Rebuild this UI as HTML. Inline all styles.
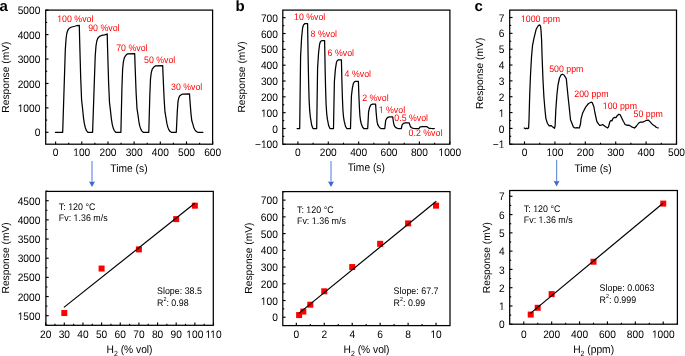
<!DOCTYPE html>
<html><head><meta charset="utf-8"><style>
html,body{margin:0;padding:0;background:#fff;}
svg{display:block;font-family:"Liberation Sans", sans-serif;will-change:transform;text-rendering:geometricPrecision;}
</style></head><body>
<svg width="685" height="356" viewBox="0 0 685 356">
<rect width="685" height="356" fill="#fff"/>
<text x="-0.6" y="10.8" font-size="15" text-anchor="start" fill="#000" font-weight="bold" >a</text>
<text x="235.5" y="10.8" font-size="15" text-anchor="start" fill="#000" font-weight="bold" >b</text>
<text x="474.4" y="10.8" font-size="15" text-anchor="start" fill="#000" font-weight="bold" >c</text>
<rect x="45.7" y="10.1" width="166.9" height="134.1" fill="none" stroke="#000" stroke-width="1.25"/>
<line x1="55.6" y1="144.2" x2="55.6" y2="141.4" stroke="#000" stroke-width="1.15"/>
<line x1="81.78" y1="144.2" x2="81.78" y2="141.4" stroke="#000" stroke-width="1.15"/>
<line x1="107.96" y1="144.2" x2="107.96" y2="141.4" stroke="#000" stroke-width="1.15"/>
<line x1="134.14" y1="144.2" x2="134.14" y2="141.4" stroke="#000" stroke-width="1.15"/>
<line x1="160.32" y1="144.2" x2="160.32" y2="141.4" stroke="#000" stroke-width="1.15"/>
<line x1="186.5" y1="144.2" x2="186.5" y2="141.4" stroke="#000" stroke-width="1.15"/>
<line x1="212.68" y1="144.2" x2="212.68" y2="141.4" stroke="#000" stroke-width="1.15"/>
<line x1="68.69" y1="144.2" x2="68.69" y2="142.7" stroke="#000" stroke-width="1.15"/>
<line x1="94.87" y1="144.2" x2="94.87" y2="142.7" stroke="#000" stroke-width="1.15"/>
<line x1="121.05" y1="144.2" x2="121.05" y2="142.7" stroke="#000" stroke-width="1.15"/>
<line x1="147.23" y1="144.2" x2="147.23" y2="142.7" stroke="#000" stroke-width="1.15"/>
<line x1="173.41" y1="144.2" x2="173.41" y2="142.7" stroke="#000" stroke-width="1.15"/>
<line x1="199.59" y1="144.2" x2="199.59" y2="142.7" stroke="#000" stroke-width="1.15"/>
<line x1="45.7" y1="132.3" x2="48.5" y2="132.3" stroke="#000" stroke-width="1.15"/>
<line x1="45.7" y1="107.88" x2="48.5" y2="107.88" stroke="#000" stroke-width="1.15"/>
<line x1="45.7" y1="83.46" x2="48.5" y2="83.46" stroke="#000" stroke-width="1.15"/>
<line x1="45.7" y1="59.04" x2="48.5" y2="59.04" stroke="#000" stroke-width="1.15"/>
<line x1="45.7" y1="34.62" x2="48.5" y2="34.62" stroke="#000" stroke-width="1.15"/>
<line x1="45.7" y1="10.2" x2="48.5" y2="10.2" stroke="#000" stroke-width="1.15"/>
<line x1="45.7" y1="120.09" x2="47.2" y2="120.09" stroke="#000" stroke-width="1.15"/>
<line x1="45.7" y1="95.67" x2="47.2" y2="95.67" stroke="#000" stroke-width="1.15"/>
<line x1="45.7" y1="71.25" x2="47.2" y2="71.25" stroke="#000" stroke-width="1.15"/>
<line x1="45.7" y1="46.83" x2="47.2" y2="46.83" stroke="#000" stroke-width="1.15"/>
<line x1="45.7" y1="22.41" x2="47.2" y2="22.41" stroke="#000" stroke-width="1.15"/>
<text transform="translate(55.6,156.4) scale(1,1.07)" font-size="10.2" text-anchor="middle" fill="#000" font-weight="normal" >0</text>
<text transform="translate(81.78,156.4) scale(1,1.07)" font-size="10.2" text-anchor="middle" fill="#000" font-weight="normal" >100</text>
<text transform="translate(107.96,156.4) scale(1,1.07)" font-size="10.2" text-anchor="middle" fill="#000" font-weight="normal" >200</text>
<text transform="translate(134.14,156.4) scale(1,1.07)" font-size="10.2" text-anchor="middle" fill="#000" font-weight="normal" >300</text>
<text transform="translate(160.32,156.4) scale(1,1.07)" font-size="10.2" text-anchor="middle" fill="#000" font-weight="normal" >400</text>
<text transform="translate(186.5,156.4) scale(1,1.07)" font-size="10.2" text-anchor="middle" fill="#000" font-weight="normal" >500</text>
<text transform="translate(212.68,156.4) scale(1,1.07)" font-size="10.2" text-anchor="middle" fill="#000" font-weight="normal" >600</text>
<text transform="translate(40.3,136.4) scale(1,1.07)" font-size="10.2" text-anchor="end" fill="#000" font-weight="normal" >0</text>
<text transform="translate(40.3,111.98) scale(1,1.07)" font-size="10.2" text-anchor="end" fill="#000" font-weight="normal" >1000</text>
<text transform="translate(40.3,87.56) scale(1,1.07)" font-size="10.2" text-anchor="end" fill="#000" font-weight="normal" >2000</text>
<text transform="translate(40.3,63.14) scale(1,1.07)" font-size="10.2" text-anchor="end" fill="#000" font-weight="normal" >3000</text>
<text transform="translate(40.3,38.72) scale(1,1.07)" font-size="10.2" text-anchor="end" fill="#000" font-weight="normal" >4000</text>
<text transform="translate(40.3,14.3) scale(1,1.07)" font-size="10.2" text-anchor="end" fill="#000" font-weight="normal" >5000</text>
<text transform="translate(128.95,171.7) scale(1,1.07)" font-size="10.25" text-anchor="middle" fill="#000" font-weight="normal" >Time (s)</text>
<text transform="translate(8.5,77.1) rotate(-90)" x="0" y="0" font-size="10.25" text-anchor="middle" fill="#000">Response (mV)</text>
<path d="M55.4,132.3 L62.7,132.3 L65.3,49.91 L66.1,38.25 L66.9,33 L67.9,30.01 L69.6,27.97 L71.7,27.01 L74.7,26.26 L77.2,25.51 L79.3,25.3 L79.6,38.14 L80.2,59.97 L80.7,78.05 L81.6,99.99 L82.6,108.97 L83.5,117.96 L84.4,123.95 L85.4,128.02 L86.5,130.7 L87.9,132.3 L92.6,132.3 L95.2,56.53 L96,45.81 L96.8,40.98 L97.8,38.23 L99.5,36.36 L101.6,35.47 L104.6,34.79 L107.1,34.1 L107.2,33.9 L107.5,45.71 L108.1,65.78 L108.6,82.41 L109.5,102.58 L110.5,110.85 L111.4,119.11 L112.3,124.62 L113.3,128.36 L114.4,130.82 L115.8,132.3 L120.9,132.3 L121.9,89.07 L122.6,69.42 L123.4,61.56 L124.4,57.63 L125.9,55.27 L127.4,53.94 L134.7,53.7 L135,63.13 L135.6,79.17 L136.1,92.45 L137,108.56 L138,115.17 L138.9,121.77 L139.8,126.17 L140.8,129.16 L141.9,131.12 L143.3,132.3 L148.8,132.3 L149.8,95.67 L150.5,79.02 L151.3,72.36 L152.3,69.03 L153.8,67.03 L155.3,65.9 L162.7,65.7 L163,73.69 L163.6,87.28 L164.1,98.53 L165,112.19 L166,117.78 L166.9,123.38 L167.8,127.11 L168.8,129.64 L169.9,131.3 L171.3,132.3 L176.3,132.3 L177.3,111.18 L178,101.58 L178.8,97.74 L179.8,95.82 L181.3,94.67 L182.8,94.02 L189.5,93.9 L189.8,98.51 L190.4,106.34 L190.9,112.83 L191.8,120.7 L192.8,123.93 L193.7,127.15 L194.6,129.3 L195.6,130.76 L196.7,131.72 L198.1,132.3 L202.9,132.3" fill="none" stroke="#000" stroke-width="1.25" stroke-linejoin="round" stroke-linecap="round"/>
<text transform="translate(57.2,21.9) scale(1,1.07)" font-size="8.8" text-anchor="start" fill="#ff0000" font-weight="normal" >100 %vol</text>
<text transform="translate(88.2,31) scale(1,1.07)" font-size="8.8" text-anchor="start" fill="#ff0000" font-weight="normal" >90 %vol</text>
<text transform="translate(116.2,51) scale(1,1.07)" font-size="8.8" text-anchor="start" fill="#ff0000" font-weight="normal" >70 %vol</text>
<text transform="translate(144,63.4) scale(1,1.07)" font-size="8.8" text-anchor="start" fill="#ff0000" font-weight="normal" >50 %vol</text>
<text transform="translate(171,89.6) scale(1,1.07)" font-size="8.8" text-anchor="start" fill="#ff0000" font-weight="normal" >30 %vol</text>
<line x1="92" y1="161" x2="92" y2="183" stroke="#6f95e0" stroke-width="1.25"/>
<path d="M89,181.4 L92,182.1 L95,181.4 L92,187 Z" fill="#3a6ad4"/>
<rect x="45.9" y="191.4" width="167.4" height="133.9" fill="none" stroke="#000" stroke-width="1.25"/>
<line x1="45.65" y1="325.3" x2="45.65" y2="322.5" stroke="#000" stroke-width="1.15"/>
<line x1="64.3" y1="325.3" x2="64.3" y2="322.5" stroke="#000" stroke-width="1.15"/>
<line x1="82.95" y1="325.3" x2="82.95" y2="322.5" stroke="#000" stroke-width="1.15"/>
<line x1="101.6" y1="325.3" x2="101.6" y2="322.5" stroke="#000" stroke-width="1.15"/>
<line x1="120.25" y1="325.3" x2="120.25" y2="322.5" stroke="#000" stroke-width="1.15"/>
<line x1="138.9" y1="325.3" x2="138.9" y2="322.5" stroke="#000" stroke-width="1.15"/>
<line x1="157.55" y1="325.3" x2="157.55" y2="322.5" stroke="#000" stroke-width="1.15"/>
<line x1="176.2" y1="325.3" x2="176.2" y2="322.5" stroke="#000" stroke-width="1.15"/>
<line x1="194.85" y1="325.3" x2="194.85" y2="322.5" stroke="#000" stroke-width="1.15"/>
<line x1="213.5" y1="325.3" x2="213.5" y2="322.5" stroke="#000" stroke-width="1.15"/>
<line x1="54.97" y1="325.3" x2="54.97" y2="323.8" stroke="#000" stroke-width="1.15"/>
<line x1="73.62" y1="325.3" x2="73.62" y2="323.8" stroke="#000" stroke-width="1.15"/>
<line x1="92.27" y1="325.3" x2="92.27" y2="323.8" stroke="#000" stroke-width="1.15"/>
<line x1="110.93" y1="325.3" x2="110.93" y2="323.8" stroke="#000" stroke-width="1.15"/>
<line x1="129.57" y1="325.3" x2="129.57" y2="323.8" stroke="#000" stroke-width="1.15"/>
<line x1="148.22" y1="325.3" x2="148.22" y2="323.8" stroke="#000" stroke-width="1.15"/>
<line x1="166.88" y1="325.3" x2="166.88" y2="323.8" stroke="#000" stroke-width="1.15"/>
<line x1="185.53" y1="325.3" x2="185.53" y2="323.8" stroke="#000" stroke-width="1.15"/>
<line x1="204.17" y1="325.3" x2="204.17" y2="323.8" stroke="#000" stroke-width="1.15"/>
<line x1="45.9" y1="315.7" x2="48.7" y2="315.7" stroke="#000" stroke-width="1.15"/>
<line x1="45.9" y1="296.53" x2="48.7" y2="296.53" stroke="#000" stroke-width="1.15"/>
<line x1="45.9" y1="277.37" x2="48.7" y2="277.37" stroke="#000" stroke-width="1.15"/>
<line x1="45.9" y1="258.2" x2="48.7" y2="258.2" stroke="#000" stroke-width="1.15"/>
<line x1="45.9" y1="239.03" x2="48.7" y2="239.03" stroke="#000" stroke-width="1.15"/>
<line x1="45.9" y1="219.87" x2="48.7" y2="219.87" stroke="#000" stroke-width="1.15"/>
<line x1="45.9" y1="200.7" x2="48.7" y2="200.7" stroke="#000" stroke-width="1.15"/>
<line x1="45.9" y1="325.28" x2="47.4" y2="325.28" stroke="#000" stroke-width="1.15"/>
<line x1="45.9" y1="306.12" x2="47.4" y2="306.12" stroke="#000" stroke-width="1.15"/>
<line x1="45.9" y1="286.95" x2="47.4" y2="286.95" stroke="#000" stroke-width="1.15"/>
<line x1="45.9" y1="267.78" x2="47.4" y2="267.78" stroke="#000" stroke-width="1.15"/>
<line x1="45.9" y1="248.62" x2="47.4" y2="248.62" stroke="#000" stroke-width="1.15"/>
<line x1="45.9" y1="229.45" x2="47.4" y2="229.45" stroke="#000" stroke-width="1.15"/>
<line x1="45.9" y1="210.28" x2="47.4" y2="210.28" stroke="#000" stroke-width="1.15"/>
<line x1="45.9" y1="191.12" x2="47.4" y2="191.12" stroke="#000" stroke-width="1.15"/>
<text transform="translate(45.65,337.7) scale(1,1.07)" font-size="10.2" text-anchor="middle" fill="#000" font-weight="normal" >20</text>
<text transform="translate(64.3,337.7) scale(1,1.07)" font-size="10.2" text-anchor="middle" fill="#000" font-weight="normal" >30</text>
<text transform="translate(82.95,337.7) scale(1,1.07)" font-size="10.2" text-anchor="middle" fill="#000" font-weight="normal" >40</text>
<text transform="translate(101.6,337.7) scale(1,1.07)" font-size="10.2" text-anchor="middle" fill="#000" font-weight="normal" >50</text>
<text transform="translate(120.25,337.7) scale(1,1.07)" font-size="10.2" text-anchor="middle" fill="#000" font-weight="normal" >60</text>
<text transform="translate(138.9,337.7) scale(1,1.07)" font-size="10.2" text-anchor="middle" fill="#000" font-weight="normal" >70</text>
<text transform="translate(157.55,337.7) scale(1,1.07)" font-size="10.2" text-anchor="middle" fill="#000" font-weight="normal" >80</text>
<text transform="translate(176.2,337.7) scale(1,1.07)" font-size="10.2" text-anchor="middle" fill="#000" font-weight="normal" >90</text>
<text transform="translate(194.85,337.7) scale(1,1.07)" font-size="10.2" text-anchor="middle" fill="#000" font-weight="normal" >100</text>
<text transform="translate(213.5,337.7) scale(1,1.07)" font-size="10.2" text-anchor="middle" fill="#000" font-weight="normal" >110</text>
<text transform="translate(40.3,319.8) scale(1,1.07)" font-size="10.2" text-anchor="end" fill="#000" font-weight="normal" >1500</text>
<text transform="translate(40.3,300.63) scale(1,1.07)" font-size="10.2" text-anchor="end" fill="#000" font-weight="normal" >2000</text>
<text transform="translate(40.3,281.47) scale(1,1.07)" font-size="10.2" text-anchor="end" fill="#000" font-weight="normal" >2500</text>
<text transform="translate(40.3,262.3) scale(1,1.07)" font-size="10.2" text-anchor="end" fill="#000" font-weight="normal" >3000</text>
<text transform="translate(40.3,243.13) scale(1,1.07)" font-size="10.2" text-anchor="end" fill="#000" font-weight="normal" >3500</text>
<text transform="translate(40.3,223.97) scale(1,1.07)" font-size="10.2" text-anchor="end" fill="#000" font-weight="normal" >4000</text>
<text transform="translate(40.3,204.8) scale(1,1.07)" font-size="10.2" text-anchor="end" fill="#000" font-weight="normal" >4500</text>
<text transform="translate(8.9,257.9) rotate(-90)" x="0" y="0" font-size="10.25" text-anchor="middle" fill="#000">Response (mV)</text>
<rect x="61.3" y="310.02" width="6" height="6" fill="#ff0000"/>
<rect x="98.6" y="265.55" width="6" height="6" fill="#ff0000"/>
<rect x="135.9" y="246.38" width="6" height="6" fill="#ff0000"/>
<rect x="173.2" y="216.1" width="6" height="6" fill="#ff0000"/>
<rect x="191.85" y="202.68" width="6" height="6" fill="#ff0000"/>
<line x1="63.9" y1="307.4" x2="194.8" y2="203.3" stroke="#000" stroke-width="1.2"/>
<text transform="translate(58.8,210.1) scale(1,1.07)" font-size="8.9" text-anchor="start" fill="#000" font-weight="normal" >T: 120 °C</text>
<text transform="translate(58.8,220.9) scale(1,1.07)" font-size="8.9" text-anchor="start" fill="#000" font-weight="normal" >Fv: 1.36 m/s</text>
<text transform="translate(157,293.8) scale(1,1.07)" font-size="8.9" text-anchor="start" fill="#000" font-weight="normal" >Slope: 38.5</text>
<text transform="translate(157,305.8) scale(1,1.07)" font-size="8.9" text-anchor="start" fill="#000" font-weight="normal" >R<tspan font-size="5.4" dy="-4.5">2</tspan><tspan dy="4.5">: 0.98</tspan></text>
<text transform="translate(129.5,353.2) scale(1,1.07)" font-size="10.25" text-anchor="middle" fill="#000" font-weight="normal" >H<tspan font-size="7" dy="2.5">2</tspan><tspan dy="-2.5"> (% vol)</tspan></text>
<rect x="282.8" y="10.1" width="167.1" height="134.1" fill="none" stroke="#000" stroke-width="1.25"/>
<line x1="297.9" y1="144.2" x2="297.9" y2="141.4" stroke="#000" stroke-width="1.15"/>
<line x1="328.28" y1="144.2" x2="328.28" y2="141.4" stroke="#000" stroke-width="1.15"/>
<line x1="358.66" y1="144.2" x2="358.66" y2="141.4" stroke="#000" stroke-width="1.15"/>
<line x1="389.03" y1="144.2" x2="389.03" y2="141.4" stroke="#000" stroke-width="1.15"/>
<line x1="419.41" y1="144.2" x2="419.41" y2="141.4" stroke="#000" stroke-width="1.15"/>
<line x1="449.79" y1="144.2" x2="449.79" y2="141.4" stroke="#000" stroke-width="1.15"/>
<line x1="313.09" y1="144.2" x2="313.09" y2="142.7" stroke="#000" stroke-width="1.15"/>
<line x1="343.47" y1="144.2" x2="343.47" y2="142.7" stroke="#000" stroke-width="1.15"/>
<line x1="373.84" y1="144.2" x2="373.84" y2="142.7" stroke="#000" stroke-width="1.15"/>
<line x1="404.22" y1="144.2" x2="404.22" y2="142.7" stroke="#000" stroke-width="1.15"/>
<line x1="434.6" y1="144.2" x2="434.6" y2="142.7" stroke="#000" stroke-width="1.15"/>
<line x1="282.8" y1="144.33" x2="285.6" y2="144.33" stroke="#000" stroke-width="1.15"/>
<line x1="282.8" y1="128.5" x2="285.6" y2="128.5" stroke="#000" stroke-width="1.15"/>
<line x1="282.8" y1="112.67" x2="285.6" y2="112.67" stroke="#000" stroke-width="1.15"/>
<line x1="282.8" y1="96.84" x2="285.6" y2="96.84" stroke="#000" stroke-width="1.15"/>
<line x1="282.8" y1="81.01" x2="285.6" y2="81.01" stroke="#000" stroke-width="1.15"/>
<line x1="282.8" y1="65.19" x2="285.6" y2="65.19" stroke="#000" stroke-width="1.15"/>
<line x1="282.8" y1="49.36" x2="285.6" y2="49.36" stroke="#000" stroke-width="1.15"/>
<line x1="282.8" y1="33.53" x2="285.6" y2="33.53" stroke="#000" stroke-width="1.15"/>
<line x1="282.8" y1="17.7" x2="285.6" y2="17.7" stroke="#000" stroke-width="1.15"/>
<line x1="282.8" y1="136.41" x2="284.3" y2="136.41" stroke="#000" stroke-width="1.15"/>
<line x1="282.8" y1="120.59" x2="284.3" y2="120.59" stroke="#000" stroke-width="1.15"/>
<line x1="282.8" y1="104.76" x2="284.3" y2="104.76" stroke="#000" stroke-width="1.15"/>
<line x1="282.8" y1="88.93" x2="284.3" y2="88.93" stroke="#000" stroke-width="1.15"/>
<line x1="282.8" y1="73.1" x2="284.3" y2="73.1" stroke="#000" stroke-width="1.15"/>
<line x1="282.8" y1="57.27" x2="284.3" y2="57.27" stroke="#000" stroke-width="1.15"/>
<line x1="282.8" y1="41.44" x2="284.3" y2="41.44" stroke="#000" stroke-width="1.15"/>
<line x1="282.8" y1="25.61" x2="284.3" y2="25.61" stroke="#000" stroke-width="1.15"/>
<text transform="translate(297.9,155.7) scale(1,1.07)" font-size="10.2" text-anchor="middle" fill="#000" font-weight="normal" >0</text>
<text transform="translate(328.28,155.7) scale(1,1.07)" font-size="10.2" text-anchor="middle" fill="#000" font-weight="normal" >200</text>
<text transform="translate(358.66,155.7) scale(1,1.07)" font-size="10.2" text-anchor="middle" fill="#000" font-weight="normal" >400</text>
<text transform="translate(389.03,155.7) scale(1,1.07)" font-size="10.2" text-anchor="middle" fill="#000" font-weight="normal" >600</text>
<text transform="translate(419.41,155.7) scale(1,1.07)" font-size="10.2" text-anchor="middle" fill="#000" font-weight="normal" >800</text>
<text transform="translate(449.79,155.7) scale(1,1.07)" font-size="10.2" text-anchor="middle" fill="#000" font-weight="normal" >1000</text>
<text transform="translate(277.9,148.43) scale(1,1.07)" font-size="10.2" text-anchor="end" fill="#000" font-weight="normal" >−100</text>
<text transform="translate(277.9,132.6) scale(1,1.07)" font-size="10.2" text-anchor="end" fill="#000" font-weight="normal" >0</text>
<text transform="translate(277.9,116.77) scale(1,1.07)" font-size="10.2" text-anchor="end" fill="#000" font-weight="normal" >100</text>
<text transform="translate(277.9,100.94) scale(1,1.07)" font-size="10.2" text-anchor="end" fill="#000" font-weight="normal" >200</text>
<text transform="translate(277.9,85.11) scale(1,1.07)" font-size="10.2" text-anchor="end" fill="#000" font-weight="normal" >300</text>
<text transform="translate(277.9,69.29) scale(1,1.07)" font-size="10.2" text-anchor="end" fill="#000" font-weight="normal" >400</text>
<text transform="translate(277.9,53.46) scale(1,1.07)" font-size="10.2" text-anchor="end" fill="#000" font-weight="normal" >500</text>
<text transform="translate(277.9,37.63) scale(1,1.07)" font-size="10.2" text-anchor="end" fill="#000" font-weight="normal" >600</text>
<text transform="translate(277.9,21.8) scale(1,1.07)" font-size="10.2" text-anchor="end" fill="#000" font-weight="normal" >700</text>
<text transform="translate(366.3,170.5) scale(1,1.07)" font-size="10.25" text-anchor="middle" fill="#000" font-weight="normal" >Time (s)</text>
<text transform="translate(244.6,77) rotate(-90)" x="0" y="0" font-size="10.25" text-anchor="middle" fill="#000">Response (mV)</text>
<path d="M297.1,128.5 L299.7,128.5 L300.15,91.82 L300.6,56.19 L301.6,37.95 L302.6,28 L303.4,25.06 L304.7,23.7 L307.6,23.7 L308.1,56.19 L308.6,81.34 L309.1,99.89 L309.7,110.68 L310.4,117.39 L311.7,125.25 L313,128.5 L316.7,128.5 L317.15,97.73 L317.6,67.85 L318.6,52.55 L319.6,44.2 L320.4,41.74 L321.7,40.6 L324.6,40.6 L325.1,67.85 L325.6,88.94 L326.1,104.5 L326.7,113.56 L327.4,119.18 L328.7,125.78 L330,128.5 L333.5,128.5 L333.95,104.45 L334.4,81.1 L335.4,69.14 L336.4,62.62 L337.2,60.69 L338.5,59.8 L341.4,59.8 L341.9,81.1 L342.4,97.58 L342.9,109.74 L343.5,116.82 L344.2,121.22 L345.5,126.37 L346.8,128.5 L350.5,128.5 L350.95,112.02 L351.4,96 L352.4,87.81 L353.4,83.33 L354.2,82.01 L355.5,81.4 L358.4,81.4 L358.9,96 L359.4,107.31 L359.9,115.64 L360.5,120.49 L361.2,123.51 L362.5,127.04 L363.8,128.5 L367.7,128.5 L368.15,120 L368.6,111.73 L369.6,107.5 L370.6,105.2 L371.4,104.52 L372.7,104.2 L375.6,104.2 L376.1,111.73 L376.6,117.56 L377.1,121.87 L377.7,124.37 L378.4,125.92 L379.7,127.75 L381,128.5 L384.8,128.5 L385.25,124.44 L385.7,120.5 L386.7,118.48 L387.7,117.38 L388.5,117.05 L389.8,116.9 L392.7,116.9 L393.2,120.5 L393.7,123.28 L394.2,125.33 L394.8,126.53 L395.5,127.27 L396.8,128.14 L398.1,128.5 L401.3,128.5 L401.75,126.5 L402.2,124.57 L403.2,123.58 L404.2,123.03 L405,122.87 L406.3,122.8 L409.2,122.8 L409.7,124.57 L410.2,125.94 L410.7,126.94 L411.3,127.53 L412,127.9 L413.3,128.32 L414.6,128.5 L419,128.5 L419.45,127.8 L419.9,127.12 L420.9,126.77 L421.9,126.58 L422.7,126.53 L424,126.5 L426.9,126.5 L427.4,127.12 L427.9,127.6 L428.4,127.95 L429,128.16 L429.7,128.29 L431,128.44 L432.3,128.5 L434.3,128.5" fill="none" stroke="#000" stroke-width="1.25" stroke-linejoin="round" stroke-linecap="round"/>
<text transform="translate(294,20.4) scale(1,1.07)" font-size="8.8" text-anchor="start" fill="#ff0000" font-weight="normal" >10 %vol</text>
<text transform="translate(310.6,37) scale(1,1.07)" font-size="8.8" text-anchor="start" fill="#ff0000" font-weight="normal" >8 %vol</text>
<text transform="translate(327.6,56) scale(1,1.07)" font-size="8.8" text-anchor="start" fill="#ff0000" font-weight="normal" >6 %vol</text>
<text transform="translate(344.6,77) scale(1,1.07)" font-size="8.8" text-anchor="start" fill="#ff0000" font-weight="normal" >4 %vol</text>
<text transform="translate(362.2,101.4) scale(1,1.07)" font-size="8.8" text-anchor="start" fill="#ff0000" font-weight="normal" >2 %vol</text>
<text transform="translate(378.7,112.6) scale(1,1.07)" font-size="8.8" text-anchor="start" fill="#ff0000" font-weight="normal" >1 %vol</text>
<text transform="translate(394.3,121) scale(1,1.07)" font-size="8.8" text-anchor="start" fill="#ff0000" font-weight="normal" >0.5 %vol</text>
<text transform="translate(408.6,136) scale(1,1.07)" font-size="8.8" text-anchor="start" fill="#ff0000" font-weight="normal" >0.2 %vol</text>
<line x1="331" y1="161" x2="331" y2="183" stroke="#6f95e0" stroke-width="1.25"/>
<path d="M328,181.4 L331,182.1 L334,181.4 L331,187 Z" fill="#3a6ad4"/>
<rect x="282.8" y="191.6" width="167.2" height="134" fill="none" stroke="#000" stroke-width="1.25"/>
<line x1="296.33" y1="325.6" x2="296.33" y2="322.8" stroke="#000" stroke-width="1.15"/>
<line x1="324.27" y1="325.6" x2="324.27" y2="322.8" stroke="#000" stroke-width="1.15"/>
<line x1="352.22" y1="325.6" x2="352.22" y2="322.8" stroke="#000" stroke-width="1.15"/>
<line x1="380.16" y1="325.6" x2="380.16" y2="322.8" stroke="#000" stroke-width="1.15"/>
<line x1="408.11" y1="325.6" x2="408.11" y2="322.8" stroke="#000" stroke-width="1.15"/>
<line x1="436.05" y1="325.6" x2="436.05" y2="322.8" stroke="#000" stroke-width="1.15"/>
<line x1="310.3" y1="325.6" x2="310.3" y2="324.1" stroke="#000" stroke-width="1.15"/>
<line x1="338.24" y1="325.6" x2="338.24" y2="324.1" stroke="#000" stroke-width="1.15"/>
<line x1="366.19" y1="325.6" x2="366.19" y2="324.1" stroke="#000" stroke-width="1.15"/>
<line x1="394.13" y1="325.6" x2="394.13" y2="324.1" stroke="#000" stroke-width="1.15"/>
<line x1="422.08" y1="325.6" x2="422.08" y2="324.1" stroke="#000" stroke-width="1.15"/>
<line x1="282.8" y1="317.25" x2="285.6" y2="317.25" stroke="#000" stroke-width="1.15"/>
<line x1="282.8" y1="300.52" x2="285.6" y2="300.52" stroke="#000" stroke-width="1.15"/>
<line x1="282.8" y1="283.79" x2="285.6" y2="283.79" stroke="#000" stroke-width="1.15"/>
<line x1="282.8" y1="267.05" x2="285.6" y2="267.05" stroke="#000" stroke-width="1.15"/>
<line x1="282.8" y1="250.32" x2="285.6" y2="250.32" stroke="#000" stroke-width="1.15"/>
<line x1="282.8" y1="233.59" x2="285.6" y2="233.59" stroke="#000" stroke-width="1.15"/>
<line x1="282.8" y1="216.86" x2="285.6" y2="216.86" stroke="#000" stroke-width="1.15"/>
<line x1="282.8" y1="200.13" x2="285.6" y2="200.13" stroke="#000" stroke-width="1.15"/>
<line x1="282.8" y1="308.88" x2="284.3" y2="308.88" stroke="#000" stroke-width="1.15"/>
<line x1="282.8" y1="292.15" x2="284.3" y2="292.15" stroke="#000" stroke-width="1.15"/>
<line x1="282.8" y1="275.42" x2="284.3" y2="275.42" stroke="#000" stroke-width="1.15"/>
<line x1="282.8" y1="258.69" x2="284.3" y2="258.69" stroke="#000" stroke-width="1.15"/>
<line x1="282.8" y1="241.96" x2="284.3" y2="241.96" stroke="#000" stroke-width="1.15"/>
<line x1="282.8" y1="225.23" x2="284.3" y2="225.23" stroke="#000" stroke-width="1.15"/>
<line x1="282.8" y1="208.49" x2="284.3" y2="208.49" stroke="#000" stroke-width="1.15"/>
<line x1="282.8" y1="191.76" x2="284.3" y2="191.76" stroke="#000" stroke-width="1.15"/>
<text transform="translate(296.33,337.6) scale(1,1.07)" font-size="10.2" text-anchor="middle" fill="#000" font-weight="normal" >0</text>
<text transform="translate(324.27,337.6) scale(1,1.07)" font-size="10.2" text-anchor="middle" fill="#000" font-weight="normal" >2</text>
<text transform="translate(352.22,337.6) scale(1,1.07)" font-size="10.2" text-anchor="middle" fill="#000" font-weight="normal" >4</text>
<text transform="translate(380.16,337.6) scale(1,1.07)" font-size="10.2" text-anchor="middle" fill="#000" font-weight="normal" >6</text>
<text transform="translate(408.11,337.6) scale(1,1.07)" font-size="10.2" text-anchor="middle" fill="#000" font-weight="normal" >8</text>
<text transform="translate(436.05,337.6) scale(1,1.07)" font-size="10.2" text-anchor="middle" fill="#000" font-weight="normal" >10</text>
<text transform="translate(277.8,321.35) scale(1,1.07)" font-size="10.2" text-anchor="end" fill="#000" font-weight="normal" >0</text>
<text transform="translate(277.8,304.62) scale(1,1.07)" font-size="10.2" text-anchor="end" fill="#000" font-weight="normal" >100</text>
<text transform="translate(277.8,287.89) scale(1,1.07)" font-size="10.2" text-anchor="end" fill="#000" font-weight="normal" >200</text>
<text transform="translate(277.8,271.15) scale(1,1.07)" font-size="10.2" text-anchor="end" fill="#000" font-weight="normal" >300</text>
<text transform="translate(277.8,254.42) scale(1,1.07)" font-size="10.2" text-anchor="end" fill="#000" font-weight="normal" >400</text>
<text transform="translate(277.8,237.69) scale(1,1.07)" font-size="10.2" text-anchor="end" fill="#000" font-weight="normal" >500</text>
<text transform="translate(277.8,220.96) scale(1,1.07)" font-size="10.2" text-anchor="end" fill="#000" font-weight="normal" >600</text>
<text transform="translate(277.8,204.23) scale(1,1.07)" font-size="10.2" text-anchor="end" fill="#000" font-weight="normal" >700</text>
<text transform="translate(251.9,258.1) rotate(-90)" x="0" y="0" font-size="10.25" text-anchor="middle" fill="#000">Response (mV)</text>
<rect x="296.12" y="312.07" width="6" height="6" fill="#ff0000"/>
<rect x="300.31" y="308.56" width="6" height="6" fill="#ff0000"/>
<rect x="307.3" y="301.7" width="6" height="6" fill="#ff0000"/>
<rect x="321.27" y="288.31" width="6" height="6" fill="#ff0000"/>
<rect x="349.22" y="264.05" width="6" height="6" fill="#ff0000"/>
<rect x="377.16" y="240.8" width="6" height="6" fill="#ff0000"/>
<rect x="405.11" y="220.39" width="6" height="6" fill="#ff0000"/>
<rect x="433.05" y="202.65" width="6" height="6" fill="#ff0000"/>
<line x1="298.8" y1="313.4" x2="436.3" y2="201.2" stroke="#000" stroke-width="1.2"/>
<text transform="translate(297,213.3) scale(1,1.07)" font-size="8.9" text-anchor="start" fill="#000" font-weight="normal" >T: 120 °C</text>
<text transform="translate(297,224.1) scale(1,1.07)" font-size="8.9" text-anchor="start" fill="#000" font-weight="normal" >Fv: 1.36 m/s</text>
<text transform="translate(393.6,293.8) scale(1,1.07)" font-size="8.9" text-anchor="start" fill="#000" font-weight="normal" >Slope: 67.7</text>
<text transform="translate(393.6,305.8) scale(1,1.07)" font-size="8.9" text-anchor="start" fill="#000" font-weight="normal" >R<tspan font-size="5.4" dy="-4.5">2</tspan><tspan dy="4.5">: 0.99</tspan></text>
<text transform="translate(366.5,353.2) scale(1,1.07)" font-size="10.25" text-anchor="middle" fill="#000" font-weight="normal" >H<tspan font-size="7" dy="2.5">2</tspan><tspan dy="-2.5"> (% vol)</tspan></text>
<rect x="509.7" y="10.1" width="166.8" height="134.1" fill="none" stroke="#000" stroke-width="1.25"/>
<line x1="524.5" y1="144.2" x2="524.5" y2="141.4" stroke="#000" stroke-width="1.15"/>
<line x1="554.9" y1="144.2" x2="554.9" y2="141.4" stroke="#000" stroke-width="1.15"/>
<line x1="585.3" y1="144.2" x2="585.3" y2="141.4" stroke="#000" stroke-width="1.15"/>
<line x1="615.7" y1="144.2" x2="615.7" y2="141.4" stroke="#000" stroke-width="1.15"/>
<line x1="646.1" y1="144.2" x2="646.1" y2="141.4" stroke="#000" stroke-width="1.15"/>
<line x1="676.5" y1="144.2" x2="676.5" y2="141.4" stroke="#000" stroke-width="1.15"/>
<line x1="539.7" y1="144.2" x2="539.7" y2="142.7" stroke="#000" stroke-width="1.15"/>
<line x1="570.1" y1="144.2" x2="570.1" y2="142.7" stroke="#000" stroke-width="1.15"/>
<line x1="600.5" y1="144.2" x2="600.5" y2="142.7" stroke="#000" stroke-width="1.15"/>
<line x1="630.9" y1="144.2" x2="630.9" y2="142.7" stroke="#000" stroke-width="1.15"/>
<line x1="661.3" y1="144.2" x2="661.3" y2="142.7" stroke="#000" stroke-width="1.15"/>
<line x1="509.7" y1="144.24" x2="512.5" y2="144.24" stroke="#000" stroke-width="1.15"/>
<line x1="509.7" y1="128.4" x2="512.5" y2="128.4" stroke="#000" stroke-width="1.15"/>
<line x1="509.7" y1="112.56" x2="512.5" y2="112.56" stroke="#000" stroke-width="1.15"/>
<line x1="509.7" y1="96.71" x2="512.5" y2="96.71" stroke="#000" stroke-width="1.15"/>
<line x1="509.7" y1="80.87" x2="512.5" y2="80.87" stroke="#000" stroke-width="1.15"/>
<line x1="509.7" y1="65.03" x2="512.5" y2="65.03" stroke="#000" stroke-width="1.15"/>
<line x1="509.7" y1="49.19" x2="512.5" y2="49.19" stroke="#000" stroke-width="1.15"/>
<line x1="509.7" y1="33.34" x2="512.5" y2="33.34" stroke="#000" stroke-width="1.15"/>
<line x1="509.7" y1="17.5" x2="512.5" y2="17.5" stroke="#000" stroke-width="1.15"/>
<line x1="509.7" y1="136.32" x2="511.2" y2="136.32" stroke="#000" stroke-width="1.15"/>
<line x1="509.7" y1="120.48" x2="511.2" y2="120.48" stroke="#000" stroke-width="1.15"/>
<line x1="509.7" y1="104.64" x2="511.2" y2="104.64" stroke="#000" stroke-width="1.15"/>
<line x1="509.7" y1="88.79" x2="511.2" y2="88.79" stroke="#000" stroke-width="1.15"/>
<line x1="509.7" y1="72.95" x2="511.2" y2="72.95" stroke="#000" stroke-width="1.15"/>
<line x1="509.7" y1="57.11" x2="511.2" y2="57.11" stroke="#000" stroke-width="1.15"/>
<line x1="509.7" y1="41.26" x2="511.2" y2="41.26" stroke="#000" stroke-width="1.15"/>
<line x1="509.7" y1="25.42" x2="511.2" y2="25.42" stroke="#000" stroke-width="1.15"/>
<text transform="translate(524.5,156.4) scale(1,1.07)" font-size="10.2" text-anchor="middle" fill="#000" font-weight="normal" >0</text>
<text transform="translate(554.9,156.4) scale(1,1.07)" font-size="10.2" text-anchor="middle" fill="#000" font-weight="normal" >100</text>
<text transform="translate(585.3,156.4) scale(1,1.07)" font-size="10.2" text-anchor="middle" fill="#000" font-weight="normal" >200</text>
<text transform="translate(615.7,156.4) scale(1,1.07)" font-size="10.2" text-anchor="middle" fill="#000" font-weight="normal" >300</text>
<text transform="translate(646.1,156.4) scale(1,1.07)" font-size="10.2" text-anchor="middle" fill="#000" font-weight="normal" >400</text>
<text transform="translate(676.5,156.4) scale(1,1.07)" font-size="10.2" text-anchor="middle" fill="#000" font-weight="normal" >500</text>
<text transform="translate(504.4,148.34) scale(1,1.07)" font-size="10.2" text-anchor="end" fill="#000" font-weight="normal" >−1</text>
<text transform="translate(504.4,132.5) scale(1,1.07)" font-size="10.2" text-anchor="end" fill="#000" font-weight="normal" >0</text>
<text transform="translate(504.4,116.66) scale(1,1.07)" font-size="10.2" text-anchor="end" fill="#000" font-weight="normal" >1</text>
<text transform="translate(504.4,100.81) scale(1,1.07)" font-size="10.2" text-anchor="end" fill="#000" font-weight="normal" >2</text>
<text transform="translate(504.4,84.97) scale(1,1.07)" font-size="10.2" text-anchor="end" fill="#000" font-weight="normal" >3</text>
<text transform="translate(504.4,69.13) scale(1,1.07)" font-size="10.2" text-anchor="end" fill="#000" font-weight="normal" >4</text>
<text transform="translate(504.4,53.29) scale(1,1.07)" font-size="10.2" text-anchor="end" fill="#000" font-weight="normal" >5</text>
<text transform="translate(504.4,37.44) scale(1,1.07)" font-size="10.2" text-anchor="end" fill="#000" font-weight="normal" >6</text>
<text transform="translate(504.4,21.6) scale(1,1.07)" font-size="10.2" text-anchor="end" fill="#000" font-weight="normal" >7</text>
<text transform="translate(593,171.5) scale(1,1.07)" font-size="10.25" text-anchor="middle" fill="#000" font-weight="normal" >Time (s)</text>
<text transform="translate(483.1,73.3) rotate(-90)" x="0" y="0" font-size="10.25" text-anchor="middle" fill="#000">Response (mV)</text>
<path d="M524.2,128 L525.5,128.8 L526.5,128.2 L527.5,128.6 L528.6,128.2 L529,120 L529.7,95 L530.5,75 L531.5,57 L532.5,45.7 L533.9,38.6 L536.2,29.2 L538,26 L539.5,24.8 L540.5,26 L541,30.3 L541.6,40 L542.1,57 L543,80 L543.9,97 L545,110 L545.9,118.6 L547.5,123.5 L549.2,125.9 L551,125.6 L552.5,126.8 L554.5,128.3 L555.1,126 L555.8,110 L556.9,95 L558,85 L559.5,78 L561,75 L562.2,74.2 L564,75 L566.3,78.6 L567.2,88 L568.1,97 L569.5,110 L570.5,119.8 L573.4,126.9 L575,128 L577,127.6 L579.3,128 L580.5,124 L581.1,118.6 L582.8,112.7 L585.8,106.8 L588.5,103.5 L591.1,102.2 L592.2,102.5 L593.8,106.5 L595,113 L596.8,121.3 L598.6,124.2 L599.7,125.4 L601.5,125.2 L602.7,124.5 L603.9,125.4 L605.6,126.8 L607.7,128 L608.6,126.6 L609.8,121.9 L611,120.4 L611.9,120.9 L613.1,118.3 L614.5,117.4 L615.9,117.7 L617.4,115.4 L618.9,114.2 L620.2,114.8 L621.6,117.7 L623.3,121.3 L625.1,124.5 L626.3,124.9 L627.5,125.4 L629.2,125.2 L631.6,126.8 L634.6,128 L636.5,126 L638.7,123 L640.5,122.1 L642.8,122.1 L644.6,121.3 L646.4,120.3 L648.1,120.1 L649.7,121.3 L651.7,123.6 L653.2,125 L654.9,126 L656.4,127.5 L658.2,127.8" fill="none" stroke="#000" stroke-width="1.25" stroke-linejoin="round" stroke-linecap="round"/>
<text transform="translate(520.9,21.7) scale(1,1.07)" font-size="8.8" text-anchor="start" fill="#ff0000" font-weight="normal" >1000 ppm</text>
<text transform="translate(549.2,72.1) scale(1,1.07)" font-size="8.8" text-anchor="start" fill="#ff0000" font-weight="normal" >500 ppm</text>
<text transform="translate(574.3,97.4) scale(1,1.07)" font-size="8.8" text-anchor="start" fill="#ff0000" font-weight="normal" >200 ppm</text>
<text transform="translate(602.8,108.9) scale(1,1.07)" font-size="8.8" text-anchor="start" fill="#ff0000" font-weight="normal" >100 ppm</text>
<text transform="translate(633.6,116.9) scale(1,1.07)" font-size="8.8" text-anchor="start" fill="#ff0000" font-weight="normal" >50 ppm</text>
<line x1="556.6" y1="159.8" x2="556.6" y2="182.4" stroke="#6f95e0" stroke-width="1.25"/>
<path d="M553.6,180.8 L556.6,181.5 L559.6,180.8 L556.6,186.4 Z" fill="#3a6ad4"/>
<rect x="509.7" y="190.5" width="167.7" height="133.7" fill="none" stroke="#000" stroke-width="1.25"/>
<line x1="523.75" y1="324.2" x2="523.75" y2="321.4" stroke="#000" stroke-width="1.15"/>
<line x1="551.65" y1="324.2" x2="551.65" y2="321.4" stroke="#000" stroke-width="1.15"/>
<line x1="579.55" y1="324.2" x2="579.55" y2="321.4" stroke="#000" stroke-width="1.15"/>
<line x1="607.45" y1="324.2" x2="607.45" y2="321.4" stroke="#000" stroke-width="1.15"/>
<line x1="635.35" y1="324.2" x2="635.35" y2="321.4" stroke="#000" stroke-width="1.15"/>
<line x1="663.25" y1="324.2" x2="663.25" y2="321.4" stroke="#000" stroke-width="1.15"/>
<line x1="537.7" y1="324.2" x2="537.7" y2="322.7" stroke="#000" stroke-width="1.15"/>
<line x1="565.6" y1="324.2" x2="565.6" y2="322.7" stroke="#000" stroke-width="1.15"/>
<line x1="593.5" y1="324.2" x2="593.5" y2="322.7" stroke="#000" stroke-width="1.15"/>
<line x1="621.4" y1="324.2" x2="621.4" y2="322.7" stroke="#000" stroke-width="1.15"/>
<line x1="649.3" y1="324.2" x2="649.3" y2="322.7" stroke="#000" stroke-width="1.15"/>
<line x1="677.2" y1="324.2" x2="677.2" y2="322.7" stroke="#000" stroke-width="1.15"/>
<line x1="509.7" y1="324.25" x2="512.5" y2="324.25" stroke="#000" stroke-width="1.15"/>
<line x1="509.7" y1="305.97" x2="512.5" y2="305.97" stroke="#000" stroke-width="1.15"/>
<line x1="509.7" y1="287.69" x2="512.5" y2="287.69" stroke="#000" stroke-width="1.15"/>
<line x1="509.7" y1="269.41" x2="512.5" y2="269.41" stroke="#000" stroke-width="1.15"/>
<line x1="509.7" y1="251.13" x2="512.5" y2="251.13" stroke="#000" stroke-width="1.15"/>
<line x1="509.7" y1="232.85" x2="512.5" y2="232.85" stroke="#000" stroke-width="1.15"/>
<line x1="509.7" y1="214.57" x2="512.5" y2="214.57" stroke="#000" stroke-width="1.15"/>
<line x1="509.7" y1="196.29" x2="512.5" y2="196.29" stroke="#000" stroke-width="1.15"/>
<line x1="509.7" y1="315.11" x2="511.2" y2="315.11" stroke="#000" stroke-width="1.15"/>
<line x1="509.7" y1="296.83" x2="511.2" y2="296.83" stroke="#000" stroke-width="1.15"/>
<line x1="509.7" y1="278.55" x2="511.2" y2="278.55" stroke="#000" stroke-width="1.15"/>
<line x1="509.7" y1="260.27" x2="511.2" y2="260.27" stroke="#000" stroke-width="1.15"/>
<line x1="509.7" y1="241.99" x2="511.2" y2="241.99" stroke="#000" stroke-width="1.15"/>
<line x1="509.7" y1="223.71" x2="511.2" y2="223.71" stroke="#000" stroke-width="1.15"/>
<line x1="509.7" y1="205.43" x2="511.2" y2="205.43" stroke="#000" stroke-width="1.15"/>
<text transform="translate(523.75,337.6) scale(1,1.07)" font-size="10.2" text-anchor="middle" fill="#000" font-weight="normal" >0</text>
<text transform="translate(551.65,337.6) scale(1,1.07)" font-size="10.2" text-anchor="middle" fill="#000" font-weight="normal" >200</text>
<text transform="translate(579.55,337.6) scale(1,1.07)" font-size="10.2" text-anchor="middle" fill="#000" font-weight="normal" >400</text>
<text transform="translate(607.45,337.6) scale(1,1.07)" font-size="10.2" text-anchor="middle" fill="#000" font-weight="normal" >600</text>
<text transform="translate(635.35,337.6) scale(1,1.07)" font-size="10.2" text-anchor="middle" fill="#000" font-weight="normal" >800</text>
<text transform="translate(663.25,337.6) scale(1,1.07)" font-size="10.2" text-anchor="middle" fill="#000" font-weight="normal" >1000</text>
<text transform="translate(504.6,328.35) scale(1,1.07)" font-size="10.2" text-anchor="end" fill="#000" font-weight="normal" >0</text>
<text transform="translate(504.6,310.07) scale(1,1.07)" font-size="10.2" text-anchor="end" fill="#000" font-weight="normal" >1</text>
<text transform="translate(504.6,291.79) scale(1,1.07)" font-size="10.2" text-anchor="end" fill="#000" font-weight="normal" >2</text>
<text transform="translate(504.6,273.51) scale(1,1.07)" font-size="10.2" text-anchor="end" fill="#000" font-weight="normal" >3</text>
<text transform="translate(504.6,255.23) scale(1,1.07)" font-size="10.2" text-anchor="end" fill="#000" font-weight="normal" >4</text>
<text transform="translate(504.6,236.95) scale(1,1.07)" font-size="10.2" text-anchor="end" fill="#000" font-weight="normal" >5</text>
<text transform="translate(504.6,218.67) scale(1,1.07)" font-size="10.2" text-anchor="end" fill="#000" font-weight="normal" >6</text>
<text transform="translate(504.6,200.39) scale(1,1.07)" font-size="10.2" text-anchor="end" fill="#000" font-weight="normal" >7</text>
<text transform="translate(489.8,257.6) rotate(-90)" x="0" y="0" font-size="10.25" text-anchor="middle" fill="#000">Response (mV)</text>
<rect x="527.73" y="311.56" width="6" height="6" fill="#ff0000"/>
<rect x="534.7" y="304.8" width="6" height="6" fill="#ff0000"/>
<rect x="548.65" y="291.09" width="6" height="6" fill="#ff0000"/>
<rect x="590.5" y="258.73" width="6" height="6" fill="#ff0000"/>
<rect x="660.25" y="200.6" width="6" height="6" fill="#ff0000"/>
<line x1="530.4" y1="313.4" x2="663" y2="203.2" stroke="#000" stroke-width="1.2"/>
<text transform="translate(523.8,212.2) scale(1,1.07)" font-size="8.9" text-anchor="start" fill="#000" font-weight="normal" >T: 120 °C</text>
<text transform="translate(523.8,222.9) scale(1,1.07)" font-size="8.9" text-anchor="start" fill="#000" font-weight="normal" >Fv: 1.36 m/s</text>
<text transform="translate(599.6,291.2) scale(1,1.07)" font-size="8.9" text-anchor="start" fill="#000" font-weight="normal" >Slope: 0.0063</text>
<text transform="translate(599.6,303.2) scale(1,1.07)" font-size="8.9" text-anchor="start" fill="#000" font-weight="normal" >R<tspan font-size="5.4" dy="-4.5">2</tspan><tspan dy="4.5">: 0.999</tspan></text>
<text transform="translate(593.6,353.2) scale(1,1.07)" font-size="10.25" text-anchor="middle" fill="#000" font-weight="normal" >H<tspan font-size="7" dy="2.5">2</tspan><tspan dy="-2.5"> (ppm)</tspan></text>
<rect x="73.71" y="155.46" width="2.14" height="1.49" fill="#fff"/>
<rect x="76.75" y="155.46" width="2.06" height="1.49" fill="#fff"/>
<rect x="18.06" y="111.04" width="2.14" height="1.49" fill="#fff"/>
<rect x="21.09" y="111.04" width="2.06" height="1.49" fill="#fff"/>
<rect x="57.52" y="21.08" width="1.89" height="1.37" fill="#fff"/>
<rect x="60.19" y="21.08" width="1.82" height="1.37" fill="#fff"/>
<rect x="186.78" y="336.76" width="2.14" height="1.49" fill="#fff"/>
<rect x="189.82" y="336.76" width="2.06" height="1.49" fill="#fff"/>
<rect x="205.8" y="336.76" width="2.14" height="1.49" fill="#fff"/>
<rect x="208.84" y="336.76" width="2.06" height="1.49" fill="#fff"/>
<rect x="210.71" y="336.76" width="2.14" height="1.49" fill="#fff"/>
<rect x="213.75" y="336.76" width="2.06" height="1.49" fill="#fff"/>
<rect x="18.06" y="318.86" width="2.14" height="1.49" fill="#fff"/>
<rect x="21.09" y="318.86" width="2.06" height="1.49" fill="#fff"/>
<rect x="68.49" y="209.27" width="1.91" height="1.38" fill="#fff"/>
<rect x="71.18" y="209.27" width="1.84" height="1.38" fill="#fff"/>
<rect x="73.91" y="220.07" width="1.91" height="1.38" fill="#fff"/>
<rect x="76.61" y="220.07" width="1.84" height="1.38" fill="#fff"/>
<rect x="438.88" y="154.76" width="2.14" height="1.49" fill="#fff"/>
<rect x="441.92" y="154.76" width="2.06" height="1.49" fill="#fff"/>
<rect x="261.31" y="147.49" width="2.14" height="1.49" fill="#fff"/>
<rect x="264.35" y="147.49" width="2.06" height="1.49" fill="#fff"/>
<rect x="261.33" y="115.83" width="2.14" height="1.49" fill="#fff"/>
<rect x="264.37" y="115.83" width="2.06" height="1.49" fill="#fff"/>
<rect x="294.32" y="19.58" width="1.89" height="1.37" fill="#fff"/>
<rect x="296.99" y="19.58" width="1.82" height="1.37" fill="#fff"/>
<rect x="379.02" y="111.78" width="1.89" height="1.37" fill="#fff"/>
<rect x="381.69" y="111.78" width="1.82" height="1.37" fill="#fff"/>
<rect x="430.81" y="336.66" width="2.14" height="1.49" fill="#fff"/>
<rect x="433.84" y="336.66" width="2.06" height="1.49" fill="#fff"/>
<rect x="261.23" y="303.68" width="2.14" height="1.49" fill="#fff"/>
<rect x="264.27" y="303.68" width="2.06" height="1.49" fill="#fff"/>
<rect x="306.69" y="212.47" width="1.91" height="1.38" fill="#fff"/>
<rect x="309.38" y="212.47" width="1.84" height="1.38" fill="#fff"/>
<rect x="312.11" y="223.27" width="1.91" height="1.38" fill="#fff"/>
<rect x="314.81" y="223.27" width="1.84" height="1.38" fill="#fff"/>
<rect x="546.83" y="155.46" width="2.14" height="1.49" fill="#fff"/>
<rect x="549.87" y="155.46" width="2.06" height="1.49" fill="#fff"/>
<rect x="499.14" y="147.4" width="2.14" height="1.49" fill="#fff"/>
<rect x="502.18" y="147.4" width="2.06" height="1.49" fill="#fff"/>
<rect x="499.16" y="115.72" width="2.14" height="1.49" fill="#fff"/>
<rect x="502.19" y="115.72" width="2.06" height="1.49" fill="#fff"/>
<rect x="521.22" y="20.88" width="1.89" height="1.37" fill="#fff"/>
<rect x="523.89" y="20.88" width="1.82" height="1.37" fill="#fff"/>
<rect x="603.12" y="108.08" width="1.89" height="1.37" fill="#fff"/>
<rect x="605.79" y="108.08" width="1.82" height="1.37" fill="#fff"/>
<rect x="652.34" y="336.66" width="2.14" height="1.49" fill="#fff"/>
<rect x="655.38" y="336.66" width="2.06" height="1.49" fill="#fff"/>
<rect x="499.36" y="309.13" width="2.14" height="1.49" fill="#fff"/>
<rect x="502.39" y="309.13" width="2.06" height="1.49" fill="#fff"/>
<rect x="533.49" y="211.37" width="1.91" height="1.38" fill="#fff"/>
<rect x="536.18" y="211.37" width="1.84" height="1.38" fill="#fff"/>
<rect x="538.91" y="222.07" width="1.91" height="1.38" fill="#fff"/>
<rect x="541.61" y="222.07" width="1.84" height="1.38" fill="#fff"/>
</svg>
</body></html>
